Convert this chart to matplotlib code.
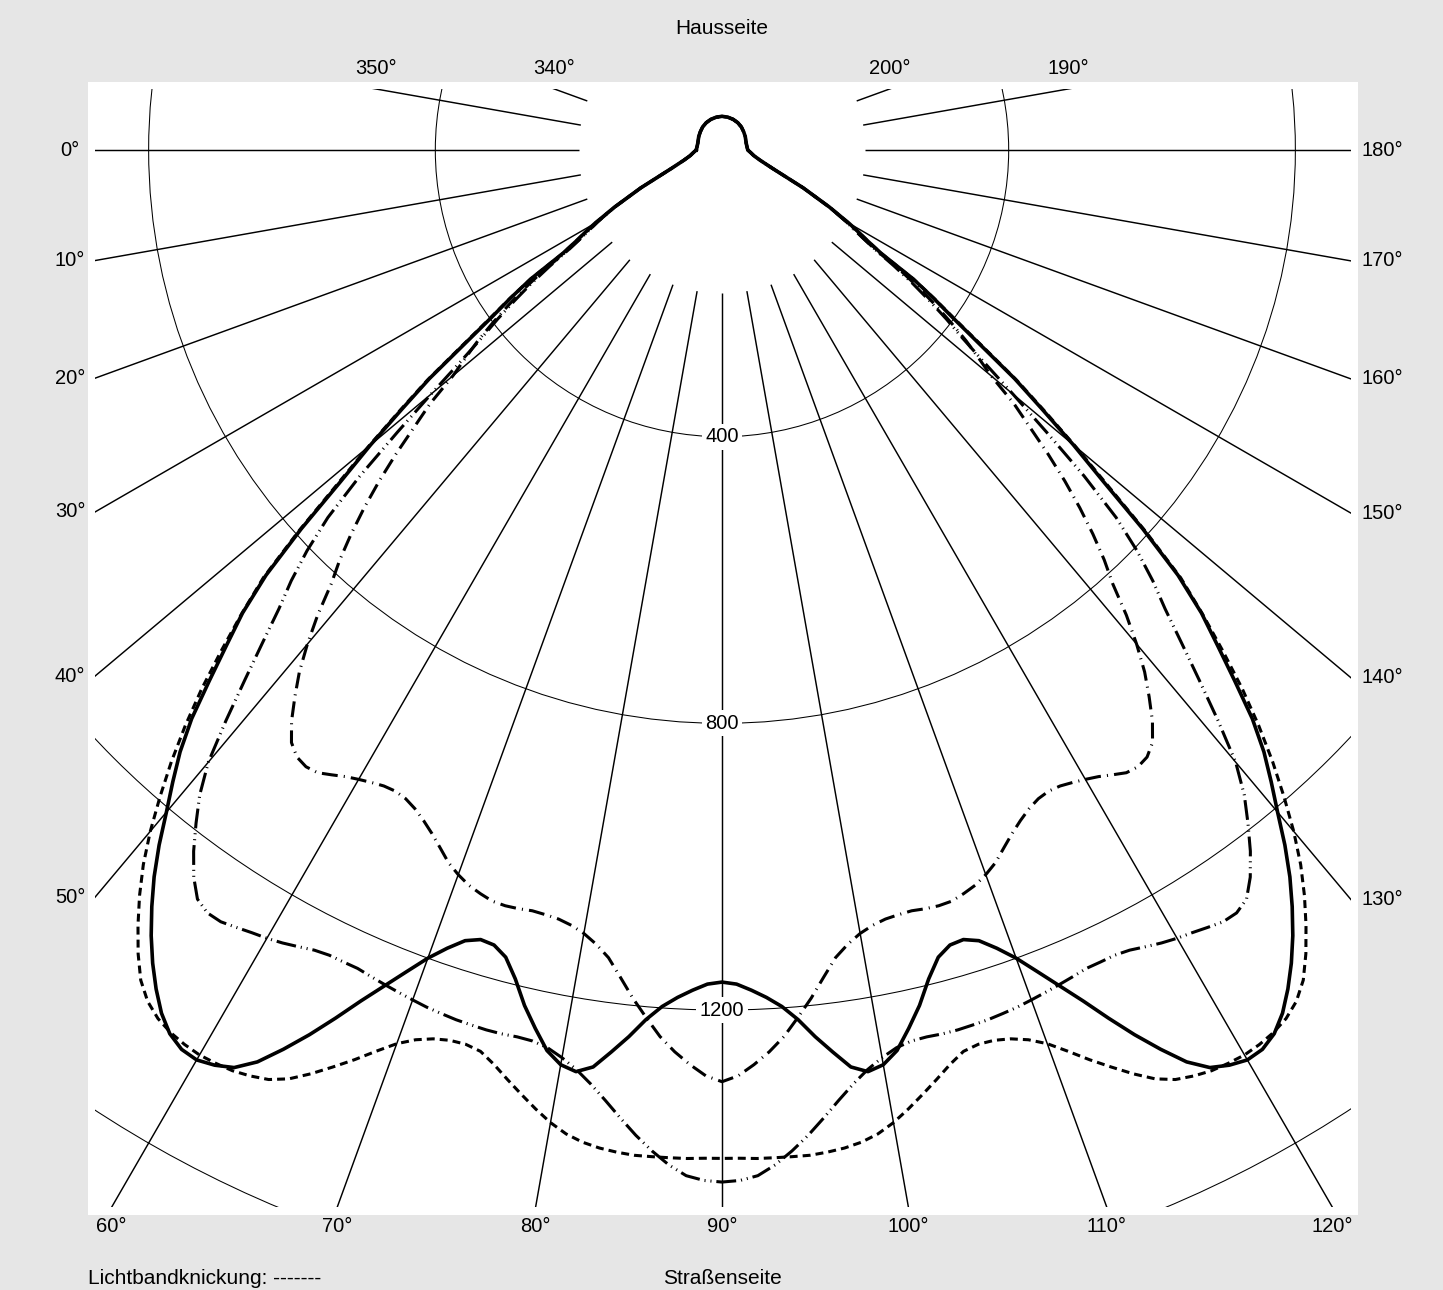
import numpy as np
import matplotlib
matplotlib.use("Agg")
import matplotlib.pyplot as plt
from matplotlib.patches import Rectangle, Circle

plt.rcParams['font.family'] = ['Liberation Sans', 'DejaVu Sans']

# ---------------- data (cd/klm) ----------------
# lower half, left quadrant: angle 0 (house side, horizontal) .. 90 (nadir)
ANG_LOW = [0, 5, 10, 15, 20, 25, 28] + list(range(30, 91))
COMMON_LOW = [36, 40, 45, 55, 75, 125, 170]

solid_vals = COMMON_LOW + [
    205, 222, 240, 265, 322, 360, 398, 450, 518, 575,
    640, 705, 790, 870, 930, 978, 1030, 1085, 1130, 1168,
    1206, 1248, 1287, 1322, 1355, 1385, 1412, 1436, 1454, 1464,
    1466, 1460, 1450, 1428, 1396, 1362, 1326, 1290, 1258, 1228,
    1200, 1178, 1160, 1152, 1154, 1166, 1192, 1225, 1253, 1280,
    1296, 1302, 1292, 1268, 1244, 1218, 1198, 1184, 1173, 1164,
    1161]

dashed_vals = COMMON_LOW + [
    205, 222, 240, 265, 322, 362, 402, 455, 522, 580,
    645, 712, 795, 875, 932, 988, 1045, 1098, 1148, 1195,
    1241, 1283, 1320, 1354, 1386, 1414, 1433, 1445, 1452, 1456,
    1458, 1457, 1455, 1450, 1443, 1430, 1411, 1390, 1369, 1347,
    1327, 1313, 1304, 1299, 1298, 1302, 1315, 1331, 1347, 1363,
    1378, 1390, 1398, 1403, 1406, 1408, 1408, 1408, 1408, 1407,
    1407]

dashdot_vals = COMMON_LOW + [
    200, 215, 232, 255, 300, 335, 368, 400, 432, 460,
    490, 540, 578, 622, 665, 706, 745, 782, 815, 860,
    900, 937, 968, 998, 1022, 1034, 1038, 1036, 1028, 1020,
    1014, 1009, 1005, 1004, 1007, 1014, 1024, 1036, 1050, 1065,
    1076, 1085, 1091, 1096, 1097, 1096, 1094, 1095, 1097, 1102,
    1110, 1122, 1138, 1163, 1190, 1215, 1240, 1260, 1277, 1292,
    1300]

dashdotdot_vals = COMMON_LOW + [
    200, 215, 232, 255, 290, 325, 358, 392, 425, 470,
    530, 600, 680, 752, 805, 850, 890, 940, 995, 1055,
    1115, 1158, 1192, 1225, 1254, 1276, 1284, 1284, 1279, 1274,
    1270, 1265, 1259, 1253, 1250, 1250, 1250, 1253, 1256, 1259,
    1262, 1265, 1267, 1269, 1270, 1271, 1271, 1270, 1271, 1276,
    1286, 1299, 1316, 1336, 1358, 1380, 1400, 1418, 1432, 1438,
    1440]

# upper half, left quadrant: 270 (zenith) .. 350
ANG_UP = [270, 280, 290, 300, 310, 320, 330, 340, 350]
VAL_UP = [47, 46.5, 45.5, 44, 42, 39.5, 37.5, 35.5, 35]

RINGS = [400, 800, 1200, 1600]
RING_LABELS = ["400", "800", "1200"]
SPOKES = list(range(0, 360, 10))
SPOKE_INNER = 200

# ---------------- geometry ----------------
W, H = 1443, 1290
CX, CY = 722, 150          # pole position in pixels
SCALE = 0.7167             # px per cd
CLIP = (95, 89, 1351, 1207)  # left, top, right, bottom (px)
WHITE = (88, 82, 1358, 1215)
FS_TICK = 14.5
FS_TEXT = 15


def full_curve(vals):
    a_low = np.array(ANG_LOW, float)
    v_low = np.array(vals, float)
    a_up = np.array(ANG_UP, float)
    v_up = np.array(VAL_UP, float)
    a = np.concatenate([a_low, 180 - a_low[-2::-1], 540 - a_up[::-1], a_up[1:], [360]])
    v = np.concatenate([v_low, v_low[-2::-1], v_up[::-1], v_up[1:], [v_low[0]]])
    return a, v


def to_xy(a_deg, r):
    t = np.radians(a_deg)
    return -r * np.cos(t), -r * np.sin(t)


fig = plt.figure(figsize=(W / 100, H / 100), dpi=100, facecolor='#e6e6e6')
fig.add_artist(Rectangle((WHITE[0] / W, 1 - WHITE[3] / H),
                         (WHITE[2] - WHITE[0]) / W, (WHITE[3] - WHITE[1]) / H,
                         transform=fig.transFigure, facecolor='white',
                         edgecolor='none', zorder=-5))

l, t, r_, b = CLIP
ax = fig.add_axes([l / W, 1 - b / H, (r_ - l) / W, (b - t) / H])
xmin, xmax = (l - CX) / SCALE, (r_ - CX) / SCALE
ymin, ymax = -(b - CY) / SCALE, (CY - t) / SCALE
ax.set_xlim(xmin, xmax)
ax.set_ylim(ymin, ymax)
ax.axis('off')

# rings
for rr in RINGS:
    ax.add_patch(Circle((0, 0), rr, fill=False, ec='black', lw=0.75, zorder=1))

# spokes + labels
for a in SPOKES:
    x0, y0 = to_xy(a, SPOKE_INNER)
    x1, y1 = to_xy(a, 4000)
    ax.plot([x0, x1], [y0, y1], color='black', lw=1.05, zorder=1,
            solid_capstyle='butt')
    dx, dy = -np.cos(np.radians(a)), -np.sin(np.radians(a))
    ts = []
    if dx < -1e-9:
        ts.append((xmin / dx, 'left'))
    if dx > 1e-9:
        ts.append((xmax / dx, 'right'))
    if dy < -1e-9:
        ts.append((ymin / dy, 'bottom'))
    if dy > 1e-9:
        ts.append((ymax / dy, 'top'))
    tt, edge = min(ts)
    if tt <= SPOKE_INNER:
        continue
    px = CX + tt * dx * SCALE
    py = CY - tt * dy * SCALE
    lab = f"{a}°"
    if edge == 'left':
        fig.text(70 / W, 1 - py / H, lab, ha='center', va='center', fontsize=FS_TICK)
    elif edge == 'right':
        fig.text(1382 / W, 1 - py / H, lab, ha='center', va='center', fontsize=FS_TICK)
    elif edge == 'top':
        fig.text(px / W, 1 - 68 / H, lab, ha='center', va='center', fontsize=FS_TICK)
    else:
        fig.text(px / W, 1 - 1226 / H, lab, ha='center', va='center', fontsize=FS_TICK)

for lab in RING_LABELS:
    rr = float(lab)
    ax.text(0, -rr, lab, ha='center', va='center', fontsize=FS_TICK, zorder=3,
            bbox=dict(facecolor='white', edgecolor='none', pad=2.5))

# curves
styles = [
    (solid_vals, dict(lw=2.6, linestyle='-')),
    (dashed_vals, dict(lw=2.2, linestyle=(0, (2.6, 1.65)))),
    (dashdot_vals, dict(lw=2.2, linestyle=(0, (5.2, 2.0, 0.35, 2.0)))),
    (dashdotdot_vals, dict(lw=2.2, linestyle=(0, (6.5, 1.6, 0.35, 1.6, 0.35, 1.6)))),
]
for vals, st in styles:
    a, v = full_curve(vals)
    x, y = to_xy(a, v)
    ax.plot(x, y, color='black', zorder=4, solid_joinstyle='round',
            dash_capstyle='butt', **st)

fig.text(722 / W, 1 - 29 / H, "Hausseite", ha='center', va='center', fontsize=FS_TEXT)
fig.text(722 / W, 1 - 1278 / H, "Straßenseite", ha='center', va='center', fontsize=FS_TEXT)
fig.text(88 / W, 1 - 1278 / H, "Lichtbandknickung: -------", ha='left', va='center', fontsize=FS_TEXT)

fig.savefig("out.png", dpi=100, facecolor=fig.get_facecolor())
